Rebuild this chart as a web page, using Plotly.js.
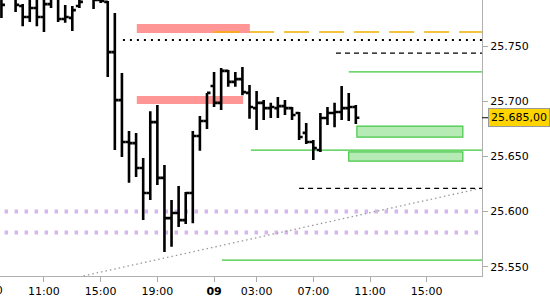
<!DOCTYPE html>
<html><head><meta charset="utf-8">
<script src="https://cdn.plot.ly/plotly-3.0.1.min.js"></script>
<style>html,body{margin:0;padding:0;background:#fff;}#chart{width:550px;height:300px;}</style>
</head><body><div id="chart"></div>
<script>
// 30-minute bars, index counted in half-hours from 11:00 (session break 23:00-00:00 removed)
const barIndex = [-6,-5,-4,-3,-2,-1,0,1,2,3,4,5,6,7,8,9,10,11,12,13,14,15,16,17,18,19,20,21,22,23,24,25,26,27,28,29,30,31,32,33,34,35,36,37,38,39,40,41,42,43,44];
const openP  = [25793.5,25800.75,25796.25,25786.25,25776.25,25784.5,25776.25,25788,25793.5,25774.5,25775.5,25786.25,25796.25,25799,25791.75,25790,25744.5,25701,25663,25662,25639.5,25616.75,25681,25630.5,25594,25598.75,25592.25,25616.75,25668.5,25682,25713.75,25698.5,25727.5,25717.5,25720,25707.5,25693.75,25698.5,25693.75,25693.75,25695.5,25693.75,25689.25,25671.25,25663,25655.75,25684.75,25689.25,25690.25,25693.75,25694.75];
const highP  = [25800.75,25819,25805.25,25788,25796.25,25799,25796.25,25802.5,25799,25787.25,25786.25,25799,25814.5,25805.25,25800.75,25790.75,25780,25725.5,25673,25671.25,25648.5,25691,25696.5,25642.25,25610.5,25623.25,25617.75,25673,25686.5,25707.5,25726.5,25730,25728.25,25726.5,25731,25714.75,25709.25,25701,25698.5,25703.75,25701,25694.75,25690.25,25680.25,25664.75,25689.25,25694.75,25698.5,25713.75,25707.5,25696.5];
const lowP   = [25775.5,25794.5,25780.75,25768,25771.75,25768,25762.75,25784.5,25771.75,25771,25763.5,25784.5,25793.5,25783.5,25789,25722,25655.75,25649.5,25626,25631.25,25592.25,25610.5,25624,25563.25,25568,25586,25588.75,25589.5,25655,25674.75,25694.75,25692,25713,25713,25705.5,25684,25674,25683,25684.75,25684.75,25687.5,25683,25664.75,25661.25,25646.75,25654,25678.5,25676.5,25683,25682,25679.25];
const closeP = [25787.25,25809.75,25787.25,25776.25,25784.5,25776.25,25788,25793.5,25774.5,25776.25,25782.5,25790,25805.25,25791.75,25790.75,25744.5,25701,25663,25662,25639.5,25616.75,25681,25630.5,25594,25598.75,25592.25,25616.75,25668.5,25682,25707.5,25698.5,25727.5,25717.5,25720,25708.25,25694.75,25698.5,25693.75,25694.75,25695.5,25693.75,25687.5,25667.5,25663,25657.5,25684.75,25689.25,25690.25,25693.75,25694.75,25685];

const tickIdx  = [-8,0,8,16,24,30,38,46,54];
const tickText = ["07:00","11:00","15:00","19:00","<b>09</b>","03:00","07:00","11:00","15:00"];
const priceTicks = [25550,25600,25650,25700,25750];
const priceTickText = ["25.550","25.600","25.650","25.700","25.750"];

// drawn levels (price) and their start bar index
const redZones   = [{from:13.1,to:29.05,lo:25761.75,hi:25770},{from:13.1,to:28.1,lo:25697.5,hi:25704.75}];
const greenZones = [{from:44.15,to:59.1,lo:25667.5,hi:25677.5},{from:43.0,to:59.1,lo:25645.75,hi:25654}];
const greenLines = [{from:43.0,price:25726.5},{from:29.2,price:25655.75},{from:25.1,price:25556}];
const blackDashed = [{from:41.2,price:25743.5},{from:36.0,price:25621}];
const blackDotted = [{from:11.14,price:25755.5}];
const orangeDashed = [{from:24.0,price:25762.75}];
const purpleDotted = [25600,25581];
const trendLine = {x0:0,y0:25533.8,x1:62,y1:25621.6};

const xMin = -6.2, xMax = 61.8, yMin = 25541.6, yMax = 25791.7;
const FONT = 'DejaVu Sans, sans-serif';

const shapes = [];
purpleDotted.forEach(p => shapes.push({type:'line',xref:'x',yref:'y',x0:xMin-5,x1:xMax+5,y0:p,y1:p,layer:'below',line:{color:'#d6b6ee',width:4,dash:'3.5px,6.5px'}}));
shapes.push({type:'line',xref:'x',yref:'y',x0:trendLine.x0,y0:trendLine.y0,x1:trendLine.x1,y1:trendLine.y1,layer:'below',line:{color:'#999999',width:1.3,dash:'1.5px,3px'}});
redZones.forEach(z => shapes.push({type:'rect',xref:'x',yref:'y',x0:z.from,x1:z.to,y0:z.lo,y1:z.hi,layer:'below',fillcolor:'#ff9696',line:{width:0}}));
greenZones.forEach(z => shapes.push({type:'rect',xref:'x',yref:'y',x0:z.from,x1:z.to,y0:z.lo,y1:z.hi,layer:'below',fillcolor:'#b6ebb6',line:{color:'#44c844',width:1.2}}));
greenLines.forEach(l => shapes.push({type:'line',xref:'x',yref:'y',x0:l.from,x1:xMax+5,y0:l.price,y1:l.price,layer:'below',line:{color:'#3cc83c',width:1.2}}));
blackDashed.forEach(l => shapes.push({type:'line',xref:'x',yref:'y',x0:l.from,x1:xMax+5,y0:l.price,y1:l.price,layer:'below',line:{color:'#000',width:1.2,dash:'5px,4px'}}));
blackDotted.forEach(l => shapes.push({type:'line',xref:'x',yref:'y',x0:l.from,x1:xMax+5,y0:l.price,y1:l.price,layer:'below',line:{color:'#000',width:2,dash:'2px,5px'}}));
orangeDashed.forEach(l => shapes.push({type:'line',xref:'x',yref:'y',x0:l.from,x1:xMax+5,y0:l.price,y1:l.price,layer:'below',line:{color:'#f2b000',width:1.5,dash:'25px,10px'}}));

function fmtEU(v){
  const s = v.toFixed(2).split('.');
  return s[0].replace(/\B(?=(\d{3})+(?!\d))/g,'.') + ',' + s[1];
}
const lastClose = closeP[closeP.length-1];
const annotations = [{
  xref:'paper', x:1, yref:'y', y:lastClose, text:fmtEU(lastClose),
  showarrow:true, ax:6, ay:0, arrowhead:0, arrowwidth:1, arrowcolor:'#000',
  xanchor:'left', bgcolor:'#ffd400', bordercolor:'#9a9a9a', borderwidth:1, borderpad:2,
  font:{family:FONT,size:11,color:'#000'}
}];
// partially visible tick label left of the range
tickIdx.forEach((t,i) => {
  if (t < xMin) annotations.push({xref:'paper', x:(t-xMin)/(xMax-xMin), yref:'paper', y:0, yshift:-6, yanchor:'top', xanchor:'center', showarrow:false, text:tickText[i], font:{family:FONT,size:11,color:'#000'}});
});

const trace = {
  type:'ohlc', x:barIndex, open:openP, high:highP, low:lowP, close:closeP,
  increasing:{line:{color:'#000',width:2.6}}, decreasing:{line:{color:'#000',width:2.6}},
  tickwidth:0.5, hoverinfo:'skip'
};

const layout = {
  width:550, height:300, margin:{l:0,r:68,t:0,b:24},
  paper_bgcolor:'#fff', plot_bgcolor:'#fff', showlegend:false, dragmode:false,
  font:{family:FONT,size:11,color:'#000'},
  xaxis:{range:[xMin,xMax], rangeslider:{visible:false}, showgrid:false, zeroline:false,
    tickmode:'array', tickvals:tickIdx, ticktext:tickText, ticks:'outside', ticklen:5, tickcolor:'#aaa',
    showline:true, linecolor:'#b0b0b0', linewidth:1, tickfont:{family:FONT,size:11,color:'#000'}},
  yaxis:{range:[yMin,yMax], side:'right', showgrid:false, zeroline:false,
    tickmode:'array', tickvals:priceTicks, ticktext:priceTickText, ticks:'outside', ticklen:5, tickcolor:'#aaa',
    showline:true, linecolor:'#b0b0b0', linewidth:1, tickfont:{family:FONT,size:11,color:'#000'}},
  shapes:shapes, annotations:annotations
};
Plotly.newPlot('chart',[trace],layout,{displayModeBar:false,staticPlot:true});
</script></body></html>
